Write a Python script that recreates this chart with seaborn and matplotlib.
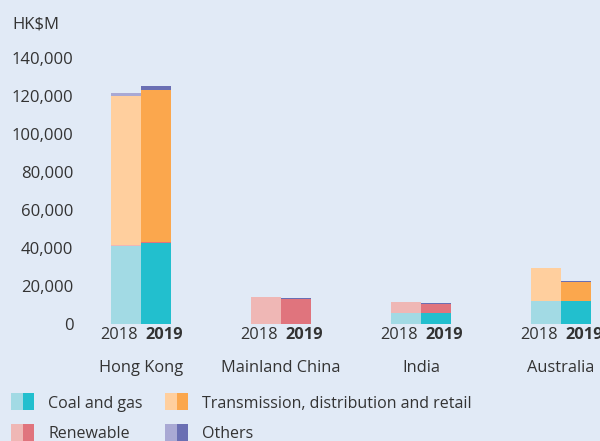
import numpy as np
import matplotlib
matplotlib.use('Agg')
import matplotlib.pyplot as plt
from matplotlib.patches import Rectangle
from matplotlib.ticker import FuncFormatter
import seaborn as sns

sns.set_theme(style="white")
plt.rcParams['font.family'] = ['Open Sans', 'DejaVu Sans']

BG = '#e1eaf6'
TXT = '#333333'

# data (HK$M)
regions = ["Hong Kong", "Mainland China", "India", "Australia"]
years = ["2018", "2019"]
coal_2018 = [41000, 0, 5500, 11800]
coal_2019 = [42300, 0, 5500, 11700]
renew_2018 = [500, 13800, 5800, 0]
renew_2019 = [700, 13000, 4800, 300]
trans_2018 = [78300, 0, 0, 17400]
trans_2019 = [80300, 0, 0, 10000]
others_2018 = [2000, 300, 0, 0]
others_2019 = [2100, 400, 500, 400]
y_ticks = [0, 20000, 40000, 60000, 80000, 100000, 120000, 140000]

series = [
    ("Coal and gas", coal_2018, coal_2019, '#a2dae4', '#22bfce'),
    ("Renewable", renew_2018, renew_2019, '#efb7b5', '#e0747d'),
    ("Transmission, distribution and retail", trans_2018, trans_2019, '#ffcf9e', '#fba74d'),
    ("Others", others_2018, others_2019, '#a9a9d4', '#6a6fb3'),
]

fig = plt.figure(figsize=(6, 4.41), dpi=100, facecolor=BG)
ax = fig.add_axes([0.15, 0.2664, 0.85, 0.602])
ax.set_facecolor(BG)

x = np.arange(len(regions))
w = 30 / 140
bottom18 = np.zeros(len(regions))
bottom19 = np.zeros(len(regions))
for name, v18, v19, c18, c19 in series:
    ax.bar(x - w / 2, v18, w, bottom=bottom18, color=c18, linewidth=0)
    ax.bar(x + w / 2, v19, w, bottom=bottom19, color=c19, linewidth=0)
    bottom18 += np.array(v18)
    bottom19 += np.array(v19)

ax.set_xlim(-51 / 140, 459 / 140)
ax.set_ylim(0, 140000)
ax.set_yticks(y_ticks)
ax.yaxis.set_major_formatter(FuncFormatter(lambda v, p: f"{int(v):,}"))
ax.set_xticks([])
ax.tick_params(axis='y', length=0, pad=12, labelsize=12, labelcolor=TXT)
for s in ax.spines.values():
    s.set_visible(False)

tr = ax.get_xaxis_transform()
for i, reg in enumerate(regions):
    ax.annotate(years[0], xy=(i, 0), xycoords=tr, xytext=(-2, -8.5),
                textcoords='offset points', ha='right', va='center',
                fontsize=11.8, color=TXT, annotation_clip=False)
    ax.annotate(years[1], xy=(i, 0), xycoords=tr, xytext=(3, -8.5),
                textcoords='offset points', ha='left', va='center',
                fontsize=11.8, color=TXT, fontweight='bold', annotation_clip=False)
    ax.annotate(reg, xy=(i, 0), xycoords=tr, xytext=(0, -31.8),
                textcoords='offset points', ha='center', va='center',
                fontsize=11.8, color=TXT, annotation_clip=False)

fig.text(12 / 600, 1 - 24 / 441, "HK$M", fontsize=12, color=TXT, va='center', ha='left')

# legend drawn by hand: split swatch (2018 light / 2019 dark)
leg_pos = [(11, 393), (165, 393), (11, 424), (165, 424)]
leg_order = [series[0], series[2], series[1], series[3]]
for (lx, ly), (name, _, _, c18, c19) in zip(leg_pos, leg_order):
    fb = 1 - (ly + 17) / 441
    fig.add_artist(Rectangle((lx / 600, fb), 11.5 / 600, 17 / 441,
                             transform=fig.transFigure, color=c18, lw=0))
    fig.add_artist(Rectangle(((lx + 11.5) / 600, fb), 11.5 / 600, 17 / 441,
                             transform=fig.transFigure, color=c19, lw=0))
    fig.text((lx + 37) / 600, 1 - (ly + 10.5) / 441, name, fontsize=11.5,
             color=TXT, va='center', ha='left')

fig.savefig('out.png', dpi=100, facecolor=BG)
